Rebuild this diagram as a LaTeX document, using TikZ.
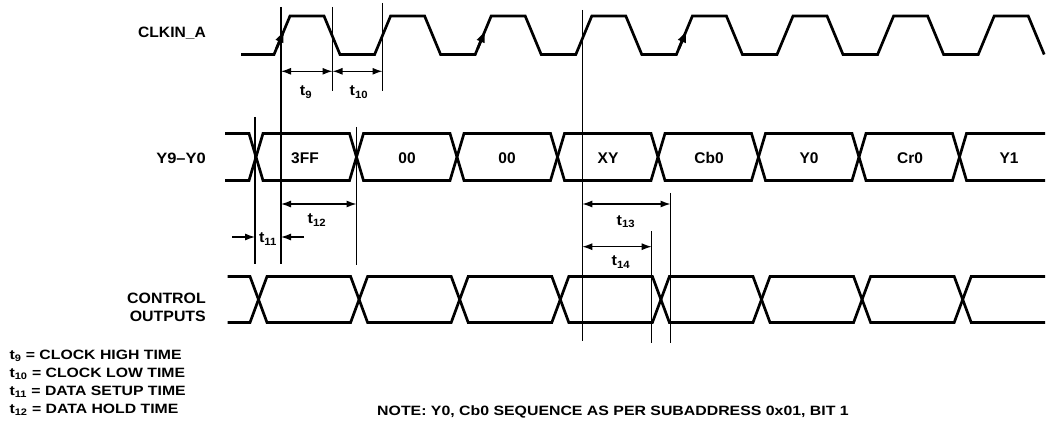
\documentclass[tikz,border=0pt]{standalone}
\usepackage{fontspec}
\setmainfont{Liberation Sans}
\usepackage{graphicx}
\usetikzlibrary{arrows.meta}
\newcommand{\wx}[2]{\scalebox{#1}[1]{#2}}
\tikzset{
  wave/.style={line width=2.7pt, line join=miter, line cap=butt},
  marker/.style={line width=1.1pt},
  dim/.style={line width=1.2pt, {Latex[length=10pt,width=7pt]}-{Latex[length=10pt,width=7pt]}},
  dimr/.style={line width=1.2pt, -{Latex[length=10pt,width=7pt]}},
  clkarrow/.style={line width=2.6pt, -{Latex[length=13pt,width=9pt]}},
  sig/.style={font=\fontsize{15}{18}\selectfont\bfseries, inner sep=0pt},
  cell/.style={font=\fontsize{15.5}{18}\selectfont\bfseries, inner sep=0pt},
  tl/.style={font=\fontsize{15}{18}\selectfont\bfseries, inner sep=0pt},
  legend/.style={font=\fontsize{13.5}{18}\selectfont\bfseries, inner sep=0pt, anchor=west},
}
\begin{document}
\begin{tikzpicture}[x=1pt,y=-1pt]
\useasboundingbox (0,0) rectangle (1050,425);
% ---------- CLOCK ----------
\def\P{100.6}
\draw[wave] (241,54.5) -- (274,54.5)
  \foreach \k in {0,...,6} { -- ({274+\k*\P},54.5) -- ({290+\k*\P},16) -- ({324+\k*\P},16) -- ({340+\k*\P},54.5) }
  -- ({274+7*\P},54.5) -- ({290+7*\P},16) -- ({324+7*\P},16) -- ({340+7*\P},54.5);
\foreach \k in {0,2,4} {
  \draw[clkarrow] ({274+\k*\P+2.5},48.5) -- ({274+\k*\P+10.5},29.5);
}
% ---------- DATA BUS ----------
\def\T{133.5}\def\B{180.5}\def\M{157}\def\h{7}
\def\Q{100.5}
\draw[wave] (225,\T) -- ({256-\h},\T) -- (256,\M) -- ({256-\h},\B) -- (225,\B);
\foreach \k in {0,...,6} {
  \draw[wave] ({256+\k*\Q},\M) -- ({256+\k*\Q+\h},\T) -- ({256+(\k+1)*\Q-\h},\T) -- ({256+(\k+1)*\Q},\M)
     -- ({256+(\k+1)*\Q-\h},\B) -- ({256+\k*\Q+\h},\B) -- cycle;
}
\draw[wave] (1045,\T) -- ({256+7*\Q+\h},\T) -- ({256+7*\Q},\M) -- ({256+7*\Q+\h},\B) -- (1045,\B);
\foreach \lab/\xx [count=\i] in {3FF/305,00/407,00/507,XY/608,Cb0/709,Y0/809,Cr0/910,Y1/1009} {
  \node[cell] (d\i) at (\xx,158) {\lab};
}
% ---------- CONTROL OUTPUTS ----------
\def\CT{276.5}\def\CB{322.5}\def\CM{299.5}\def\g{8.5}
\def\R{100.6}
\draw[wave] (227.5,\CT) -- ({258.5-\g},\CT) -- (258.5,\CM) -- ({258.5-\g},\CB) -- (227.5,\CB);
\foreach \k in {0,...,6} {
  \draw[wave] ({258.5+\k*\R},\CM) -- ({258.5+\k*\R+\g},\CT) -- ({258.5+(\k+1)*\R-\g},\CT) -- ({258.5+(\k+1)*\R},\CM)
     -- ({258.5+(\k+1)*\R-\g},\CB) -- ({258.5+\k*\R+\g},\CB) -- cycle;
}
\draw[wave] (1045,\CT) -- ({258.5+7*\R+\g},\CT) -- ({258.5+7*\R},\CM) -- ({258.5+7*\R+\g},\CB) -- (1045,\CB);
% ---------- SIGNAL NAMES ----------
\node[sig, anchor=east] (clk) at (206,33) {\wx{1.04}{CLKIN\_A}};
\node[sig, anchor=east] (ybus) at (206,158) {\wx{1.1}{Y9–Y0}};
\node[sig, anchor=east, align=right] (ctl) at (206,307) {\wx{1.06}{CONTROL}\\[0pt]\wx{1.06}{OUTPUTS}};
% ---------- MARKER LINES ----------
\coordinate (m1t) at (281,7);      \coordinate (m1b) at (281,264);
\coordinate (m2t) at (255,117);    \coordinate (m2b) at (255,264);
\coordinate (m3t) at (332.5,7);    \coordinate (m3b) at (332.5,91);
\coordinate (m4t) at (382.5,3);    \coordinate (m4b) at (382.5,91);
\coordinate (m5t) at (356.5,127);  \coordinate (m5b) at (356.5,265);
\coordinate (m6t) at (582.3,10);   \coordinate (m6b) at (582.3,341);
\coordinate (m7t) at (651.7,231);  \coordinate (m7b) at (651.7,343);
\coordinate (m8t) at (670.5,193);  \coordinate (m8b) at (670.5,343);
\foreach \i in {1,...,8} { \draw[marker] (m\i t) -- (m\i b); }
% ---------- DIMENSIONS ----------
\draw[dim] (281,71.3) -- (332.5,71.3);
\draw[dim] (332.5,71.3) -- (382.5,71.3);
\node[tl] (t9) at (306,92) {\wx{1.08}{t\textsubscript{9}}};
\node[tl] (t10) at (359,92) {\wx{1.08}{t\textsubscript{10}}};
\draw[dim] (281,204) -- (356.5,204);
\node[tl] (t12) at (317,220) {\wx{1.08}{t\textsubscript{12}}};
\draw[dimr] (232,237) -- (255,237);
\draw[dimr] (304,237) -- (281,237);
\node[tl] (t11) at (268,239) {\wx{1.08}{t\textsubscript{11}}};
\draw[dim] (582.3,204) -- (670.5,204);
\node[tl] (t13) at (626,221.5) {\wx{1.08}{t\textsubscript{13}}};
\draw[dim] (582.3,246.7) -- (651.7,246.7);
\node[tl] (t14) at (621,262) {\wx{1.08}{t\textsubscript{14}}};
% ---------- LEGEND ----------
\node[legend] (lg1) at (9.3,356) {\wx{1.17}{t\textsubscript{9} = CLOCK HIGH TIME}};
\node[legend] (lg2) at (9.3,374) {\wx{1.17}{t\textsubscript{10} = CLOCK LOW TIME}};
\node[legend] (lg3) at (9.3,392) {\wx{1.17}{t\textsubscript{11} = DATA SETUP TIME}};
\node[legend] (lg4) at (9.3,410) {\wx{1.17}{t\textsubscript{12} = DATA HOLD TIME}};
\node[legend, anchor=center] (note) at (613,412) {\wx{1.175}{NOTE: Y0, Cb0 SEQUENCE AS PER SUBADDRESS 0x01, BIT 1}};
\end{tikzpicture}
\end{document}
